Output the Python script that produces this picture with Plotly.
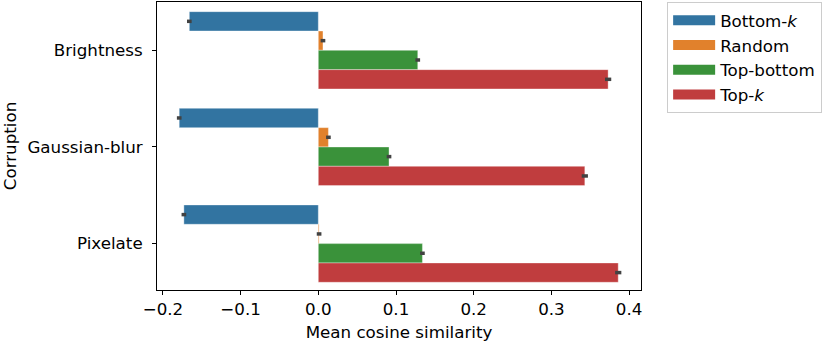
import plotly.graph_objects as go

categories = ["Brightness", "Gaussian-blur", "Pixelate"]
series_names = ["Bottom-<i>k</i>", "Random", "Top-bottom", "Top-<i>k</i>"]
bottom_k = [-0.166, -0.179, -0.173]
random_ = [0.006, 0.013, 0.001]
top_bottom = [0.128, 0.091, 0.134]
top_k = [0.373, 0.343, 0.386]
err_bottom_k = [0.003, 0.003, 0.003]
err_random = [0.003, 0.003, 0.003]
err_top_bottom = [0.003, 0.003, 0.003]
err_top_k = [0.004, 0.004, 0.004]
x_ticks = [-0.2, -0.1, 0.0, 0.1, 0.2, 0.3, 0.4]

values = [bottom_k, random_, top_bottom, top_k]
errors = [err_bottom_k, err_random, err_top_bottom, err_top_k]
colors = ["#3274a1", "#e1812c", "#3a923a", "#c03d3e"]

fig = go.Figure()
for i, (name, vals, errs, col) in enumerate(zip(series_names, values, errors, colors)):
    fig.add_trace(go.Bar(
        y=categories, x=vals, name=name, orientation="h",
        legendgroup=f"g{i}", showlegend=False,
        marker=dict(color=col, line=dict(width=0.6, color="rgba(255,255,255,0.6)")),
        error_x=dict(type="data", array=errs, visible=True, color="#424242",
                     thickness=3.5, width=0),
    ))
# legend swatches (wide patches like matplotlib)
for i, (name, col) in enumerate(zip(series_names, colors)):
    fig.add_trace(go.Scatter(
        x=[None], y=[None], mode="lines", name=name, legendgroup=f"g{i}",
        line=dict(color=col, width=12), showlegend=True,
    ))

font = "DejaVu Sans, sans-serif"
fs = 16.7
fig.update_layout(
    width=830, height=345,
    margin=dict(l=157, r=189, t=2, b=55),
    paper_bgcolor="white", plot_bgcolor="white",
    barmode="group", bargap=0.2, bargroupgap=0,
    font=dict(family=font, size=fs, color="black"),
    legend=dict(x=1.054, y=1.0, xanchor="left", yanchor="top",
                traceorder="normal", bordercolor="#cccccc", borderwidth=1,
                font=dict(size=fs), bgcolor="white", tracegroupgap=3,
                itemwidth=42),
    xaxis=dict(range=[-0.2076, 0.4153], tickvals=x_ticks, automargin=False,
               tickformat=".1f", showgrid=False, zeroline=False,
               showline=True, linecolor="black", linewidth=1, mirror=True,
               ticks="outside", ticklen=4, tickcolor="black",
               tickfont=dict(size=fs),
               title=dict(text="Mean cosine similarity", standoff=8, font=dict(size=fs))),
    yaxis=dict(categoryorder="array", categoryarray=categories, automargin=False,
               range=[2.48, -0.5], showgrid=False, zeroline=False,
               showline=True, linecolor="black", linewidth=1, mirror=True,
               ticks="outside", ticklen=4, tickcolor="black",
               tickfont=dict(size=fs), ticklabelstandoff=6,
               title=dict(text="Corruption", standoff=10, font=dict(size=fs))),
)
fig.write_html("out.html", config={"displayModeBar": False},
               post_script="document.body.style.margin='0';")
